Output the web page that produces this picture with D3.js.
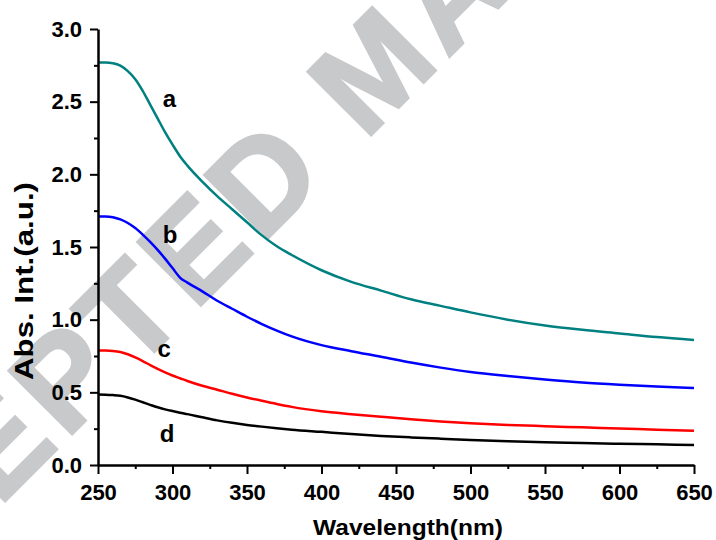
<!DOCTYPE html>
<meta charset="utf-8">
<script src="https://d3js.org/d3.v7.min.js"></script>
<style>
  body { margin: 0; background: #fff; }
  text { font-family: "Liberation Sans", Arial, sans-serif; font-weight: bold; }
</style>
<div id="chart"></div>
<script>

// datos
var wavelength = [250, 255, 260, 265, 270, 275, 280, 285, 290, 295, 300, 305, 310, 320, 330, 340,
                  350, 360, 370, 380, 400, 420, 440, 460, 480, 500, 525, 550, 575, 600, 625, 650];
var serieA = [2.77, 2.77, 2.765, 2.748, 2.71, 2.655, 2.575, 2.48, 2.385, 2.29, 2.205, 2.125, 2.06, 1.95, 1.85, 1.76,
              1.67, 1.58, 1.505, 1.445, 1.34, 1.26, 1.20, 1.14, 1.095, 1.05, 1.00, 0.96, 0.93, 0.905, 0.88, 0.86];
var serieB = [1.71, 1.71, 1.705, 1.69, 1.665, 1.63, 1.585, 1.535, 1.48, 1.42, 1.355, 1.29, 1.255, 1.195, 1.13, 1.075,
              1.02, 0.97, 0.925, 0.885, 0.825, 0.783, 0.745, 0.705, 0.67, 0.64, 0.612, 0.588, 0.567, 0.552, 0.54, 0.53];
var serieC = [0.787, 0.787, 0.785, 0.778, 0.762, 0.74, 0.715, 0.688, 0.662, 0.638, 0.616, 0.597, 0.578, 0.545, 0.518, 0.49,
              0.465, 0.442, 0.42, 0.40, 0.37, 0.35, 0.332, 0.315, 0.30, 0.288, 0.276, 0.267, 0.259, 0.251, 0.243, 0.235];
var serieD = [0.485, 0.484, 0.481, 0.476, 0.465, 0.45, 0.432, 0.414, 0.397, 0.383, 0.371, 0.36, 0.35, 0.328, 0.307, 0.29,
              0.276, 0.264, 0.253, 0.243, 0.228, 0.213, 0.20, 0.19, 0.181, 0.172, 0.163, 0.156, 0.151, 0.146, 0.142, 0.138];

var series = [
  {name: "a", values: serieA, color: "#008080", labelX: 293.5, labelY: 2.46},
  {name: "b", values: serieB, color: "#0000ff", labelX: 293.5, labelY: 1.53},
  {name: "c", values: serieC, color: "#ff0000", labelX: 290, labelY: 0.74},
  {name: "d", values: serieD, color: "#000000", labelX: 291.5, labelY: 0.16}
];

var xTicks = [250, 300, 350, 400, 450, 500, 550, 600, 650];
var xMinor = [275, 325, 375, 425, 475, 525, 575, 625];
var yTicks = [0, 0.5, 1.0, 1.5, 2.0, 2.5, 3.0];
var yMinor = [0.25, 0.75, 1.25, 1.75, 2.25, 2.75];

var W = 716, H = 540;
var margin = {top: 29, right: 22, bottom: 75, left: 98},
    width = W - margin.left - margin.right,
    height = H - margin.top - margin.bottom;

var svgRoot = d3.select("#chart").append("svg")
    .attr("width", W)
    .attr("height", H);

// marca de agua
svgRoot.append("text")
    .attr("transform", "translate(-217,723) rotate(-45)")
    .style("font-size", "130px")
    .style("letter-spacing", "8px")
    .attr("fill", "#c8c9cb")
    .attr("stroke", "#c8c9cb")
    .attr("stroke-width", 3)
    .text("ACCEPTED MANUSCRIPT");

var svg = svgRoot.append("g")
    .attr("transform", "translate(" + margin.left + "," + margin.top + ")");

var x = d3.scaleLinear().domain([250, 650]).range([0, width]);
var y = d3.scaleLinear().domain([0, 3.0]).range([height, 0]);

// curvas
var line = d3.line()
    .x(function(d, i) { return x(wavelength[i]); })
    .y(function(d) { return y(d); })
    .curve(d3.curveMonotoneX);

series.forEach(function(s) {
  svg.append("path")
      .datum(s.values)
      .attr("fill", "none")
      .attr("stroke", s.color)
      .attr("stroke-width", 2.5)
      .attr("d", line);
  svg.append("text")
      .attr("x", x(s.labelX))
      .attr("y", y(s.labelY))
      .style("font-size", "24px")
      .attr("fill", "#000")
      .text(s.name);
});

// ejes
svg.append("g")
    .attr("transform", "translate(0," + height + ")")
    .call(d3.axisBottom(x).tickValues(xTicks).tickSize(9).tickSizeOuter(0).tickPadding(10)
          .tickFormat(d3.format("d")));
svg.append("g")
    .attr("transform", "translate(0," + height + ")")
    .call(d3.axisBottom(x).tickValues(xMinor).tickSize(4).tickFormat(""))
    .select(".domain").remove();

svg.append("g")
    .call(d3.axisLeft(y).tickValues(yTicks).tickSize(8).tickSizeOuter(0).tickPadding(8)
          .tickFormat(d3.format(".1f")));
svg.append("g")
    .call(d3.axisLeft(y).tickValues(yMinor).tickSize(4).tickFormat(""))
    .select(".domain").remove();

svg.selectAll(".domain").attr("stroke-width", 2.5).attr("stroke", "#000");
svg.selectAll(".tick line").attr("stroke-width", 2).attr("stroke", "#000");
svg.selectAll(".tick text")
    .style("font-size", "22px")
    .attr("fill", "#000");

// titulos de los ejes
svgRoot.append("text")
    .attr("x", 408)
    .attr("y", 535)
    .attr("text-anchor", "middle")
    .attr("textLength", 190)
    .attr("lengthAdjust", "spacingAndGlyphs")
    .style("font-size", "22px")
    .text("Wavelength(nm)");

svgRoot.append("text")
    .attr("transform", "translate(33,281) rotate(-90)")
    .attr("text-anchor", "middle")
    .attr("textLength", 198)
    .attr("lengthAdjust", "spacingAndGlyphs")
    .style("font-size", "26px")
    .text("Abs. Int.(a.u.)");

</script>
